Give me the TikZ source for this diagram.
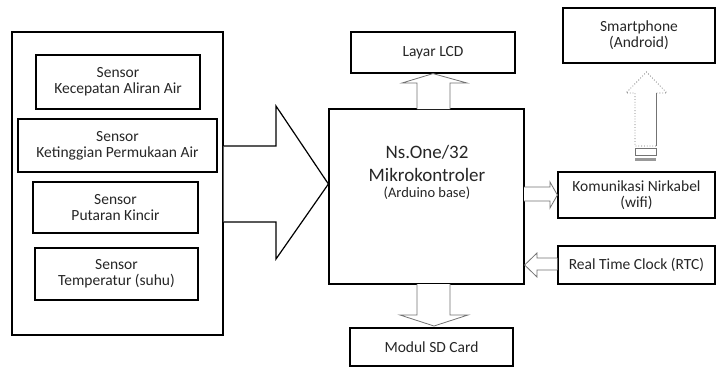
\documentclass[tikz,border=0pt]{standalone}
\usepackage{fontspec}
\setmainfont{Carlito}
\usetikzlibrary{calc}

\tikzset{
  blok/.style={draw, line width=1.2pt, inner sep=0pt, align=center,
    text=black!85, font=\fontsize{15.5}{16}\selectfont},
  panah/.style={draw=black!55, line width=0.8pt, fill=white, line join=miter},
}

\begin{document}
\begin{tikzpicture}[x=1pt,y=-1pt]
\useasboundingbox (0,0) rectangle (716,367);

% kelompok sensor
\node[blok, minimum width=211, minimum height=303] (sensorgrp) at (117.5,183.5) {};
\node[blok, minimum width=164, minimum height=54] (s1) at (118,82) {Sensor\\Kecepatan Aliran Air};
\node[blok, minimum width=199, minimum height=53] (s2) at (117.5,145.5) {Sensor\\Ketinggian Permukaan Air};
\node[blok, minimum width=165, minimum height=51] (s3) at (115.5,207.5) {Sensor\\Putaran Kincir};
\node[blok, minimum width=163, minimum height=52] (s4) at (116.5,274) {Sensor\\Temperatur (suhu)};

% mikrokontroler
\node[blok, minimum width=195, minimum height=175] (micro) at (426.5,196.5) {};
\node[text=black!85, align=center, font=\fontsize{19}{23}\selectfont] (microname) at (427,163) {Ns.One/32\\Mikrokontroler};
\node[text=black!85, font=\fontsize{14.5}{16}\selectfont] (microsub) at (427,193) {(Arduino base)};

% blok keluaran
\node[blok, minimum width=164, minimum height=41] (lcd) at (433,52.5) {Layar LCD};
\node[blok, minimum width=163, minimum height=38] (sd) at (431.5,347) {Modul SD Card};
\node[blok, minimum width=152, minimum height=55] (phone) at (639,35.5) {Smartphone\\(Android)};
\node[blok, minimum width=157, minimum height=46] (wifi) at (636.5,195) {Komunikasi Nirkabel\\(wifi)};
\node[blok, minimum width=157, minimum height=38] (rtc) at (636.5,265) {Real Time Clock (RTC)};

% panah besar sensor -> mikrokontroler
\draw[line width=1.2pt, fill=white, line join=miter]
  (sensorgrp.east |- 0,146) -- (276,146) -- (276,106) -- (micro.west |- 0,184)
  -- (276,259) -- (276,222) -- (sensorgrp.east |- 0,222);

% panah ke LCD dan SD card
\draw[panah] (417,109) -- (417,83) -- (402,83) -- (lcd.south) -- (467,83) -- (450,83) -- (450,109);
\draw[panah] (417,284) -- (417,315) -- (400,315) -- (434,326) -- (468,315) -- (450,315) -- (450,284);

% panah ke wifi dan dari RTC
\draw[panah] (524,187) -- (550,187) -- (550,182) -- (wifi.west) -- (550,208) -- (550,201) -- (524,201);
\draw[panah] (rtc.west |- 0,258) -- (537,258) -- (537,253) -- (micro.east |- 0,265)
  -- (537,277) -- (537,270) -- (rtc.west |- 0,270);

% panah putus-putus wifi -> smartphone
\fill[white] (635,146) -- (635,93) -- (626,93) -- (646.5,72) -- (667,93) -- (656,93) -- (656,146) -- cycle;
\draw[black!55, line width=0.8pt, dotted] (656,146) -- (635,146) -- (635,93) -- (626,93) -- (646.5,72) -- (667,93) -- (656,93);
\draw[black!55, line width=0.8pt] (656,93) -- (656,146);
\draw[black!55, line width=0.8pt] (635,148) rectangle (656,155);
\fill[black!40] (635,158) rectangle (656,161);
\end{tikzpicture}
\end{document}
